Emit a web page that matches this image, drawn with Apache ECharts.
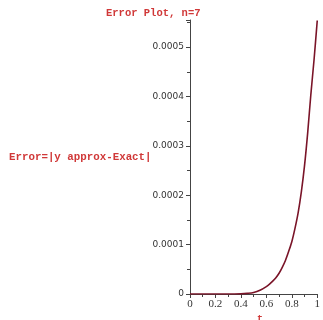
<!DOCTYPE html>
<html><head><meta charset="utf-8">
<script src="https://cdn.jsdelivr.net/npm/echarts@6/dist/echarts.min.js"></script>
<style>html,body{margin:0;padding:0;background:#fff}#c{width:323px;height:320px}</style>
</head><body><div id="c"></div>
<script>
var tValues = [0,0.05,0.1,0.15,0.2,0.25,0.3,0.35,0.4,0.45,0.5,0.55,0.6,0.625,0.65,0.675,0.7,0.725,0.75,0.775,0.8,0.825,0.85,0.875,0.9,0.925,0.95,0.975,1.0];
var errValues = [0,0,0,0,0,0,0,0,0.0000002,0.0000012,0.000003,0.0000075,0.000015,0.00002,0.000026,0.000033,0.000042,0.000054,0.000068,0.000086,0.000106,0.000133,0.000165,0.000207,0.00026,0.000327,0.000405,0.000475,0.000554];
var yTicks = [0,0.0001,0.0002,0.0003,0.0004,0.0005];
var titleText = 'Error Plot, n=7';
var yName = 'Error=|y approx-Exact|';
var xName = 't';

var data = tValues.map(function(t,i){return [t, errValues[i]];});
var chart = echarts.init(document.getElementById('c'), null, {renderer:'canvas'});
chart.setOption({
  animation:false,
  backgroundColor:'#fff',
  title:[
    {text:titleText, left:101, top:3, textStyle:{fontFamily:'Liberation Mono', fontWeight:'bold', fontSize:10.5, color:'#d03838'}},
    {text:yName, left:4, top:147, textStyle:{fontFamily:'Liberation Mono', fontWeight:'bold', fontSize:10.8, color:'#d03838'}},
    {text:xName, left:252, top:309, textStyle:{fontFamily:'Liberation Mono', fontWeight:'bold', fontSize:10, color:'#d03838'}}
  ],
  grid:{left:190, right:1.5, top:20, bottom:26, containLabel:false},
  xAxis:{type:'value', min:0, max:1, interval:0.2,
    axisLine:{show:true, onZero:false, lineStyle:{color:'#444', width:1}},
    axisTick:{show:true, length:4, lineStyle:{color:'#444'}},
    minorTick:{show:true, splitNumber:2, length:3, lineStyle:{color:'#444'}},
    splitLine:{show:false},
    axisLabel:{fontFamily:'Liberation Serif', fontSize:11, color:'#333', margin:5,
      formatter:function(v){return v===0?'0':(v===1?'1':String(Math.round(v*10)/10));}}
  },
  yAxis:{type:'value', min:0, max:0.000555, interval:0.0001,
    axisLine:{show:true, lineStyle:{color:'#444', width:1}},
    axisTick:{show:true, length:4, lineStyle:{color:'#444'}},
    minorTick:{show:true, splitNumber:2, length:3, lineStyle:{color:'#444'}},
    splitLine:{show:false},
    axisLabel:{fontFamily:'DejaVu Sans', fontSize:9, color:'#333', margin:6, showMaxLabel:false,
      formatter:function(v){var idx=yTicks.findIndex(function(k){return Math.abs(k-v)<1e-9;}); if(idx<0) return ''; return idx===0?'0':yTicks[idx].toFixed(4);}}
  },
  series:[{type:'line', data:data, smooth:0.3, showSymbol:false,
    lineStyle:{color:'#7a1428', width:1.6}}]
});
</script></body></html>
